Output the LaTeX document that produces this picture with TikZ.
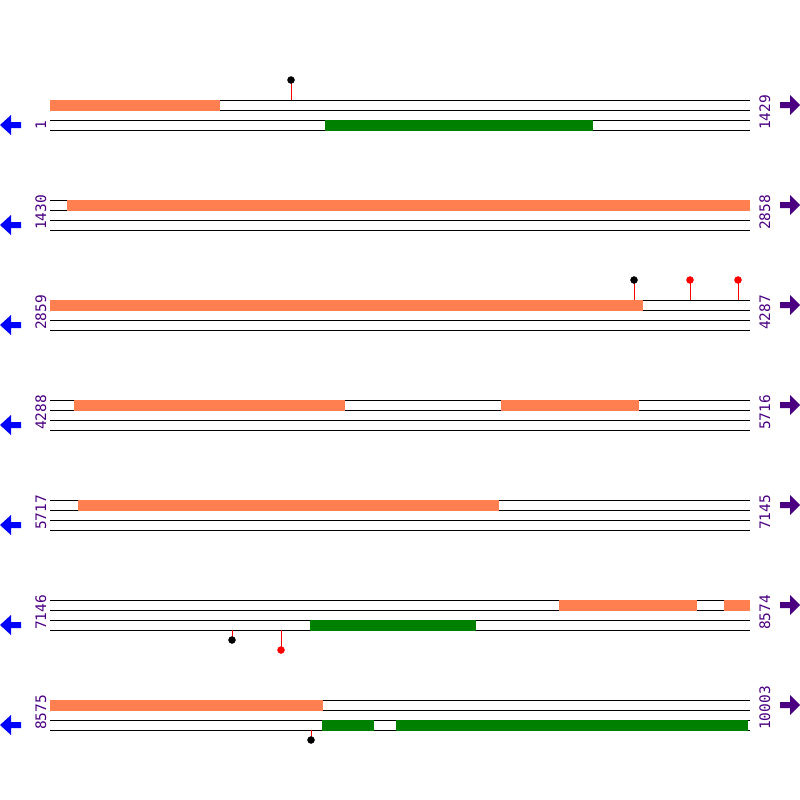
\documentclass[tikz,border=0pt]{standalone}
\usepackage{fontspec}
\newfontfamily\seqfont{DejaVu Sans Mono}
\definecolor{coralbar}{RGB}{255,127,80}
\definecolor{genebar}{RGB}{0,128,0}
\definecolor{numcol}{RGB}{75,0,130}
\newcommand{\lolli}[4]{%
    \draw[red] (#1,#2) -- (#1,#3);
    \filldraw[#4] (#1,#3) circle (3.5);
}

\begin{document}
\begin{tikzpicture}[x=1pt, y=-1pt,
    strand/.style={black, line width=1pt},
    orf/.style={fill=coralbar},
    gene/.style={fill=genebar},
    posnum/.style={rotate=90, anchor=base west, inner sep=0pt, text=numcol, font=\seqfont\fontsize{14.5}{14.5}\selectfont}]
    \useasboundingbox (0,0) rectangle (800,800);

    % Strands, arrows and positions of each row
    \foreach \r/\lo/\hi in {0/1/1429, 1/1430/2858, 2/2859/4287, 3/4288/5716, 4/5717/7145, 5/7146/8574, 6/8575/10003} {
        \pgfmathsetmacro{\yo}{100+100*\r}
        \foreach \k in {0,...,3}
            \draw[strand] (50,\yo+10*\k) -- (750,\yo+10*\k);
        \fill[blue] (0,\yo+25) -- (11,\yo+15) -- (11,\yo+22) -- (21,\yo+22) -- (21,\yo+28) -- (11,\yo+28) -- (11,\yo+35) -- cycle;
        \fill[numcol] (800,\yo+5) -- (790,\yo-5) -- (790,\yo+2) -- (780,\yo+2) -- (780,\yo+8) -- (790,\yo+8) -- (790,\yo+15) -- cycle;
        \node[posnum] (left\r) at (46,\yo+30) {\lo};
        \node[posnum] (right\r) at (770,\yo+30) {\hi};
    }

    % Row 1
    \fill[orf] (50,99.5) rectangle (220,110.5);
    \fill[gene] (325,119.5) rectangle (593,130.5);
    \lolli{291}{100}{80}{black}

    % Row 2
    \fill[orf] (67,199.5) rectangle (750,210.5);

    % Row 3
    \fill[orf] (50,299.5) rectangle (643,310.5);
    \lolli{634}{300}{280}{black}
    \lolli{690}{300}{280}{red}
    \lolli{738}{300}{280}{red}

    % Row 4
    \fill[orf] (74,399.5) rectangle (345,410.5);
    \fill[orf] (501,399.5) rectangle (639,410.5);

    % Row 5
    \fill[orf] (78,499.5) rectangle (499,510.5);

    % Row 6
    \fill[orf] (559,599.5) rectangle (697,610.5);
    \fill[orf] (724,599.5) rectangle (750,610.5);
    \fill[gene] (310,619.5) rectangle (476,630.5);
    \lolli{232}{630}{640}{black}
    \lolli{281}{630}{650}{red}

    % Row 7
    \fill[orf] (50,699.5) rectangle (323,710.5);
    \fill[gene] (322,719.5) rectangle (374,730.5);
    \fill[gene] (396,719.5) rectangle (748,730.5);
    \lolli{311}{730}{740}{black}
\end{tikzpicture}
\end{document}
